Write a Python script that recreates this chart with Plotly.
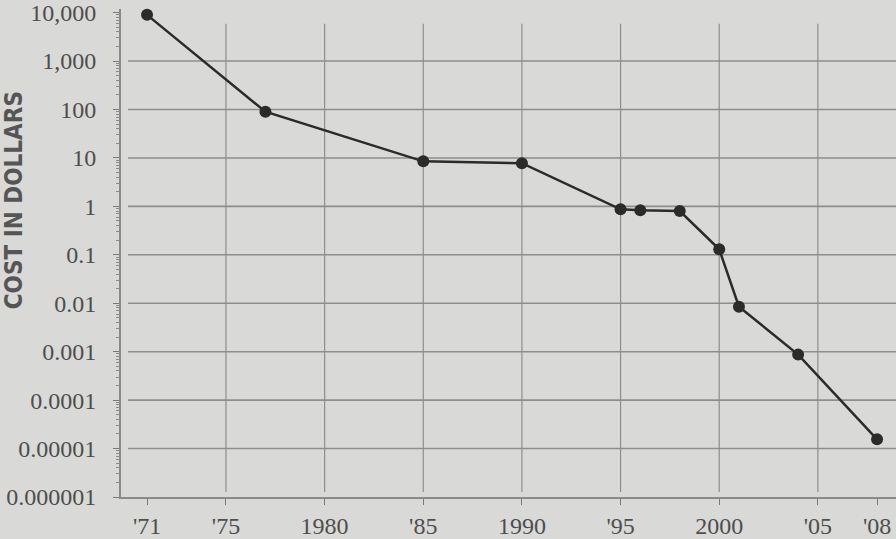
import plotly.graph_objects as go

# Data
years = [1971, 1977, 1985, 1990, 1995, 1996, 1998, 2000, 2001, 2004, 2008]
cost = [9000, 90, 8.5, 7.8, 0.87, 0.83, 0.8, 0.13, 0.0085, 0.00087, 0.0000155]

x_tickvals = [1971, 1975, 1980, 1985, 1990, 1995, 2000, 2005, 2008]
x_ticktext = ["'71", "'75", "1980", "'85", "1990", "'95", "2000", "'05", "'08"]
x_gridyears = [1975, 1980, 1985, 1990, 1995, 2000, 2005]

y_tickvals = [1e4, 1e3, 1e2, 1e1, 1, 0.1, 0.01, 0.001, 0.0001, 0.00001, 0.000001]
y_ticktext = ["10,000", "1,000", "100", "10", "1", "0.1", "0.01", "0.001",
              "0.0001", "0.00001", "0.000001"]
y_gridvals = [1e3, 1e2, 1e1, 1, 0.1, 0.01, 0.001, 0.0001, 0.00001]

BG = "#d9d9d7"
GRID = "#8e8e8c"
INK = "#2b2b2b"
LABEL = "#4e4e4e"

fig = go.Figure()
fig.add_trace(go.Scatter(
    x=years, y=cost, mode="lines+markers",
    line=dict(color=INK, width=2.5),
    marker=dict(color=INK, size=12),
    cliponaxis=False, showlegend=False,
))

shapes = []
for v in y_gridvals:
    shapes.append(dict(type="line", xref="paper", yref="y", x0=0.009, x1=1,
                       y0=v, y1=v, line=dict(color=GRID, width=1.6), layer="below"))
for yr in x_gridyears:
    shapes.append(dict(type="line", xref="x", yref="paper", x0=yr, x1=yr,
                       y0=0.01, y1=0.97, line=dict(color=GRID, width=1.2), layer="below"))

fig.update_layout(
    width=896, height=539,
    margin=dict(l=121, r=0, t=5, b=37),
    paper_bgcolor=BG, plot_bgcolor=BG,
    shapes=shapes,
    font=dict(family="Liberation Serif", color=LABEL, size=24),
    xaxis=dict(
        range=[1969.68, 2008.96], tickvals=x_tickvals, ticktext=x_ticktext,
        showgrid=False, zeroline=False, showline=True, linecolor="#8a8a88", linewidth=2,
        ticks="outside", ticklen=6, tickcolor="#7a7a78", tickwidth=1.2,
        tickfont=dict(family="Liberation Serif", size=24, color=LABEL),
        ticklabelstandoff=0, ticklabeloverflow="allow",
    ),
    yaxis=dict(
        type="log", range=[-6, 4.075], tickvals=y_tickvals, ticktext=y_ticktext,
        showgrid=False, zeroline=False, showline=True, linecolor="#8a8a88", linewidth=2,
        ticks="outside", ticklen=6, tickcolor="#7a7a78", tickwidth=1.2,
        minor=dict(ticks="outside", ticklen=3, tickcolor="#8a8a88", dtick="D1", showgrid=False),
        tickfont=dict(family="Liberation Serif", size=24, color=LABEL),
        ticklabelstandoff=12, ticklabeloverflow="allow",
    ),
    annotations=[dict(
        text="<b>COST IN DOLLARS</b>", textangle=-90, showarrow=False,
        xref="paper", yref="paper", x=-0.137, y=0.6076,
        xanchor="center", yanchor="middle",
        font=dict(family="DejaVu Sans Condensed", size=24, color="#555555"),
    )],
)

fig.write_html("out.html", config={"displayModeBar": False},
               post_script="document.body.style.margin='0px';")
